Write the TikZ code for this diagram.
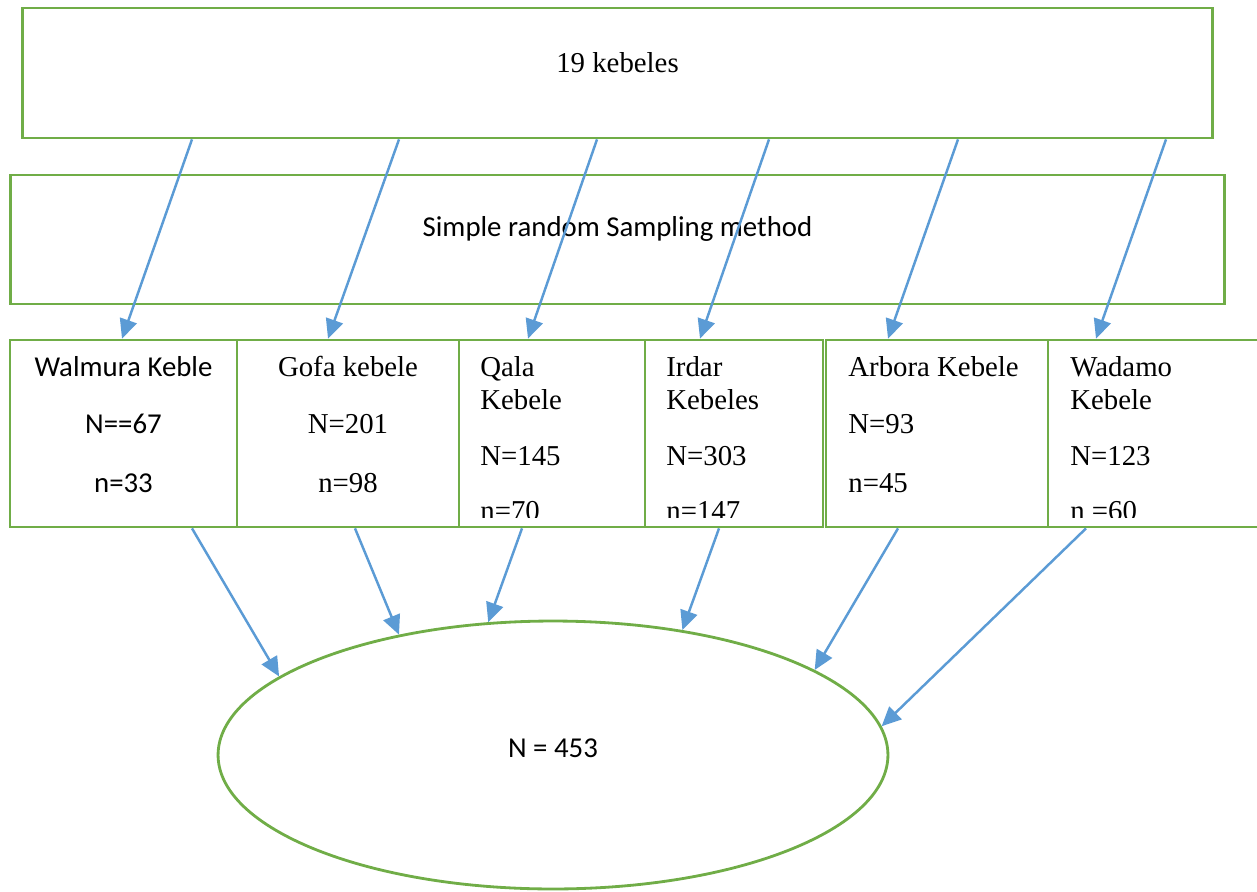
\documentclass[tikz,border=0pt]{standalone}
\usepackage{fontspec}
\setmainfont{Liberation Serif}
\newfontfamily\calibri{Carlito}
\usepackage{tikz}
\usetikzlibrary{arrows.meta, shapes.geometric}
\definecolor{boxgreen}{RGB}{112,173,71}
\definecolor{arrowblue}{RGB}{91,155,213}

\begin{document}
\begin{tikzpicture}[
    x=0.02cm, y=-0.02cm,
    >={Triangle[length=11pt, width=10pt]},
    box/.style={draw=boxgreen, line width=1.6pt, inner sep=0pt},
    arr/.style={->, arrowblue, line width=1.4pt},
    txt/.style={font=\fontsize{16.4}{19.3}\selectfont, inner sep=0pt, anchor=base},
    txtl/.style={txt, anchor=base west},
    sans/.style={txt, font=\fontsize{16.4}{19.3}\selectfont\calibri},
]
    \useasboundingbox (0,0) rectangle (1257,892);

    % top boxes
    \node[box, minimum width=23.82cm, minimum height=2.6cm] (kebeles) at (617.5,73) {};
    \node[txt] (kebelestxt) at (617.5,72) {19 kebeles};
    \node[box, minimum width=24.3cm, minimum height=2.58cm] (srs) at (617.5,239.5) {};
    \node[sans] (srstxt) at (617.5,236) {Simple random Sampling method};

    % one box per kebele
    \node[box, minimum width=4.54cm, minimum height=3.74cm] (walmura) at (123.5,433.5) {};
    \node[box, minimum width=4.44cm, minimum height=3.74cm] (gofa) at (348,433.5) {};
    \node[box, minimum width=3.72cm, minimum height=3.74cm] (qala) at (552,433.5) {};
    \node[box, minimum width=3.56cm, minimum height=3.74cm] (irdar) at (734,433.5) {};
    \node[box, minimum width=4.44cm, minimum height=3.74cm] (arbora) at (937,433.5) {};
    \node[box, minimum width=4.44cm, minimum height=3.74cm] (wadamo) at (1159,433.5) {};

    \node[sans] (wal1) at (123.5,376) {Walmura Keble};
    \node[sans] (wal2) at (123.5,433) {N==67};
    \node[sans] (wal3) at (123.5,492) {n=33};

    \node[txt] (gof1) at (348,376) {Gofa kebele};
    \node[txt] (gof2) at (348,433) {N=201};
    \node[txt] (gof3) at (348,492) {n=98};

    \node[txtl] (qal1) at (480,376) {Qala};
    \node[txtl] (qal2) at (480,409) {Kebele};
    \node[txtl] (qal3) at (480,465) {N=145};

    \node[txtl] (ird1) at (666,376) {Irdar};
    \node[txtl] (ird2) at (666,409) {Kebeles};
    \node[txtl] (ird3) at (666,465) {N=303};

    \node[txtl] (arb1) at (848,376) {Arbora Kebele};
    \node[txtl] (arb2) at (848,433) {N=93};
    \node[txtl] (arb3) at (848,492) {n=45};

    \node[txtl] (wad1) at (1070,376) {Wadamo};
    \node[txtl] (wad2) at (1070,409) {Kebele};
    \node[txtl] (wad3) at (1070,465) {N=123};

    % last lines are cut by the box edge
    \begin{scope}
        \clip (0,340) rectangle (1257,517);
        \node[txtl] (qal4) at (480,520) {n=70};
        \node[txtl] (ird4) at (666,520) {n=147};
        \node[txtl] (wad4) at (1070,520) {n =60};
    \end{scope}

    % total sample
    \node[box, ellipse, minimum width=13.4cm, minimum height=5.36cm] (total) at (553,755) {};
    \node[sans] (totaltxt) at (553,757) {N = 453};

    % arrows
    \foreach \a/\b/\n in {192/122/walmura, 399/328/gofa, 597/528/qala, 769/700/irdar, 958/888/arbora, 1166/1096/wadamo}
        \draw[arr] (kebeles.south -| \a,0) -- (\n.north -| \b,0);
    \foreach \a/\n/\ang in {192/walmura/164.4, 355/gofa/142, 522/qala/116, 719/irdar/44, 898/arbora/18.4, 1086/wadamo/5.9}
        \draw[arr] (\n.south -| \a,0) -- (total.\ang);
\end{tikzpicture}
\end{document}
